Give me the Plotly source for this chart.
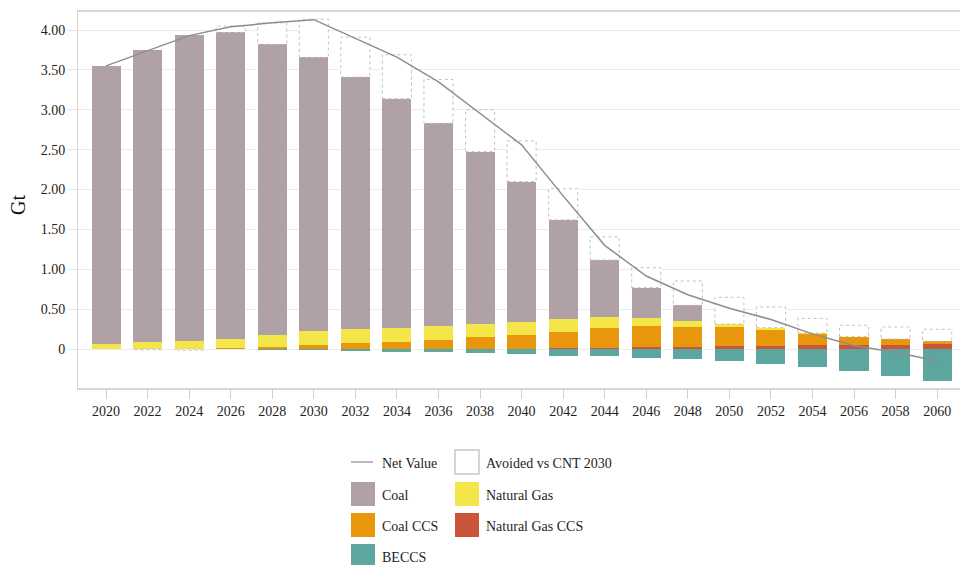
import plotly.graph_objects as go

# Power-sector CO2 emissions by source (Gt)
years = [2020, 2022, 2024, 2026, 2028, 2030, 2032, 2034, 2036, 2038, 2040,
         2042, 2044, 2046, 2048, 2050, 2052, 2054, 2056, 2058, 2060]

coal = [3.485, 3.66, 3.84, 3.845, 3.645, 3.43, 3.163, 2.872, 2.538, 2.158, 1.757,
        1.248, 0.719, 0.381, 0.197, 0, 0, 0, 0, 0, 0]
natural_gas = [0.06, 0.084, 0.10, 0.109, 0.145, 0.176, 0.176, 0.18, 0.179, 0.171, 0.167,
               0.155, 0.13, 0.101, 0.071, 0.033, 0.022, 0.004, 0, 0, 0]
coal_ccs = [0, 0, 0, 0.016, 0.03, 0.05, 0.071, 0.088, 0.113, 0.146, 0.176,
            0.205, 0.25, 0.263, 0.25, 0.24, 0.204, 0.15, 0.105, 0.07, 0.038]
natural_gas_ccs = [0, 0, 0, 0, 0, 0, 0, 0, 0, 0, 0,
                   0.012, 0.017, 0.025, 0.03, 0.04, 0.042, 0.046, 0.05, 0.055, 0.058]
beccs = [0, 0, 0, 0, -0.003, -0.008, -0.025, -0.033, -0.042, -0.054, -0.063,
         -0.084, -0.092, -0.109, -0.13, -0.15, -0.188, -0.22, -0.27, -0.34, -0.40]
avoided = [None, -0.01, -0.015, 0.08, 0.27, 0.48, 0.50, 0.55, 0.55, 0.525, 0.51,
           0.39, 0.29, 0.25, 0.305, 0.335, 0.26, 0.184, 0.142, 0.151, 0.151]
net_value = [3.55, 3.74, 3.93, 4.04, 4.09, 4.13, 3.89, 3.66, 3.35, 2.96, 2.56,
             1.92, 1.30, 0.915, 0.68, 0.51, 0.37, 0.19, 0.04, -0.04, -0.15]

y_ticks = [0, 0.5, 1.0, 1.5, 2.0, 2.5, 3.0, 3.5, 4.0]
y_tick_text = ["0", "0.50", "1.00", "1.50", "2.00", "2.50", "3.00", "3.50", "4.00"]

COLORS = {
    "Coal": "#b0a1a6",
    "Natural Gas": "#f4e548",
    "Coal CCS": "#e8960c",
    "Natural Gas CCS": "#c9553a",
    "BECCS": "#5ba69f",
}
FONT = "Liberation Serif, Times New Roman, serif"
TEXT = "#1e1e1e"

W, H = 960, 565
ML, MR, MT, MB = 78, 0, 12, 177
PW, PH = W - ML - MR, H - MT - MB

fig = go.Figure()

BAR_W = 1.4
stack = [
    ("Natural Gas CCS", natural_gas_ccs),
    ("Coal CCS", coal_ccs),
    ("Natural Gas", natural_gas),
    ("Coal", coal),
    ("BECCS", beccs),
]
for name, vals in stack:
    fig.add_trace(go.Bar(
        x=years, y=vals, name=name, width=BAR_W,
        marker=dict(color=COLORS[name], line=dict(width=0)),
        showlegend=False,
    ))

fig.add_trace(go.Bar(
    x=years, y=avoided, name="Avoided vs CNT 2030", width=BAR_W,
    marker=dict(color="white", line=dict(width=0)),
    showlegend=False,
))

# Dotted outline around each "avoided" segment, placed on top of the stack
ox, oy = [], []
for i, yr in enumerate(years):
    a = avoided[i]
    if not a:
        continue
    if a > 0:
        base = natural_gas_ccs[i] + coal_ccs[i] + natural_gas[i] + coal[i]
    else:
        base = beccs[i]
    top = base + a
    x0, x1 = yr - BAR_W / 2, yr + BAR_W / 2
    ox += [x0, x1, x1, x0, x0, None]
    oy += [base, base, top, top, base, None]
fig.add_trace(go.Scatter(
    x=ox, y=oy, mode="lines", hoverinfo="skip",
    line=dict(color="#c2c2c2", width=1, dash="dot"),
    showlegend=False,
))

fig.add_trace(go.Scatter(
    x=years, y=net_value, name="Net Value", mode="lines",
    line=dict(color="#8e8e8e", width=1.5),
    showlegend=False,
))


def px_x(px):
    return (px - ML) / PW


def px_y(py):
    return (H - MB - py) / PH


# Legend drawn below the plot in two columns
shapes = []
annotations = []
legend_items = [
    ("line", "Net Value", "#c2b6bc", 351, 462),
    ("box", "Avoided vs CNT 2030", None, 455, 462),
    ("rect", "Coal", COLORS["Coal"], 351, 494),
    ("rect", "Natural Gas", COLORS["Natural Gas"], 455, 494),
    ("rect", "Coal CCS", COLORS["Coal CCS"], 351, 525),
    ("rect", "Natural Gas CCS", COLORS["Natural Gas CCS"], 455, 525),
    ("rect", "BECCS", COLORS["BECCS"], 351, 556),
]
SW = 24
for kind, label, color, x0, yc in legend_items:
    if kind == "line":
        shapes.append(dict(type="line", xref="paper", yref="paper",
                           x0=px_x(x0), x1=px_x(x0 + 22), y0=px_y(yc), y1=px_y(yc),
                           line=dict(color=color, width=2)))
    elif kind == "box":
        shapes.append(dict(type="rect", xref="paper", yref="paper",
                           x0=px_x(x0), x1=px_x(x0 + SW), y0=px_y(yc - 12), y1=px_y(yc + 12),
                           fillcolor="white", line=dict(color="#c8c8c8", width=1.5)))
    else:
        shapes.append(dict(type="rect", xref="paper", yref="paper",
                           x0=px_x(x0), x1=px_x(x0 + SW), y0=px_y(yc - 12), y1=px_y(yc + 12),
                           fillcolor=color, line=dict(width=0)))
    annotations.append(dict(xref="paper", yref="paper", x=px_x(x0 + 29), y=px_y(yc + 1),
                            text=label, showarrow=False, xanchor="left", yanchor="middle",
                            font=dict(family=FONT, size=14, color=TEXT)))

# Axis title
annotations.append(dict(xref="paper", yref="paper", x=px_x(18), y=px_y(205),
                        text="Gt", showarrow=False, textangle=-90,
                        xanchor="center", yanchor="middle",
                        font=dict(family=FONT, size=20, color="#111111")))

fig.update_layout(
    width=W, height=H,
    margin=dict(l=ML, r=MR, t=MT, b=MB, pad=0),
    barmode="relative",
    bargap=0,
    paper_bgcolor="white",
    plot_bgcolor="white",
    font=dict(family=FONT, size=14, color=TEXT),
    shapes=shapes,
    annotations=annotations,
    showlegend=False,
)

fig.update_xaxes(
    range=[2018.65, 2061.1],
    tickmode="array", tickvals=years, ticktext=[str(y) for y in years],
    showgrid=False, zeroline=False,
    showline=True, linecolor="#d6d6d6", linewidth=1.5, mirror=True,
    ticks="outside", ticklen=9, tickcolor="#cfcfcf", tickwidth=1,
    tickfont=dict(family=FONT, size=14, color=TEXT),
)
fig.update_yaxes(
    range=[-0.489, 4.226],
    tickmode="array", tickvals=y_ticks, ticktext=y_tick_text,
    showgrid=True, gridcolor="#ececec", gridwidth=1, zeroline=False,
    showline=True, linecolor="#d6d6d6", linewidth=1,
    ticks="outside", ticklen=9, tickcolor="#e2e2e2", tickwidth=1,
    tickfont=dict(family=FONT, size=14, color=TEXT),
)

fig.write_html("out.html")
